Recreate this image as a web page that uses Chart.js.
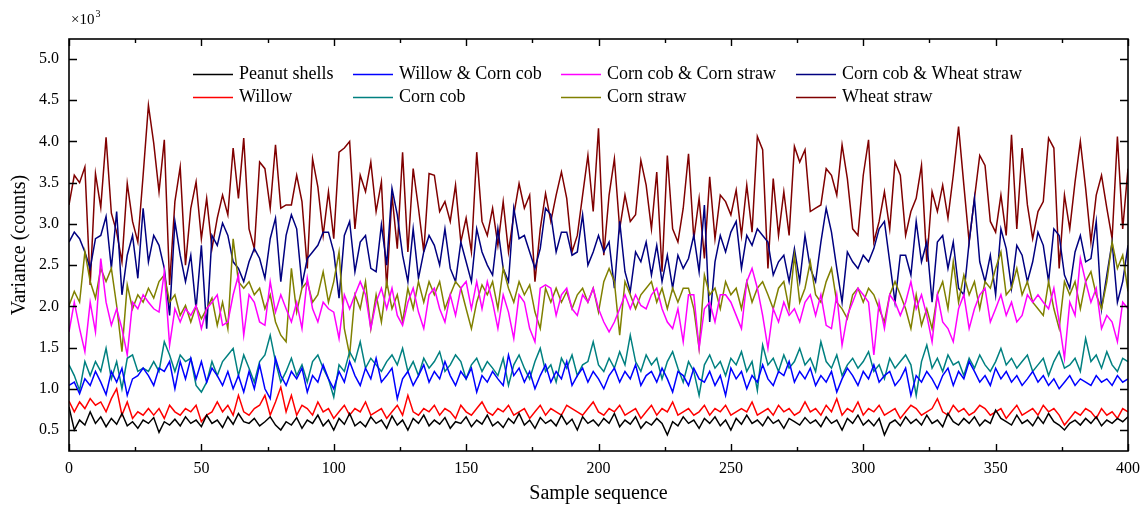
<!DOCTYPE html>
<html><head><meta charset="utf-8">
<script src="https://cdn.jsdelivr.net/npm/chart.js@4/dist/chart.umd.min.js"></script>
<style>html,body{margin:0;padding:0;background:#fff}#wrap{width:1142px;height:509px;position:relative}</style>
</head><body><div id="wrap"><canvas id="c" width="1142" height="509"></canvas></div>
<script>
// sample sequence (every 2nd sample, 0..400)
const samples = Array.from({length: 201}, (_, i) => i * 2);

const seriesNames = ["Peanut shells","Willow","Willow & Corn cob","Corn cob","Corn cob & Corn straw","Corn straw","Corn cob & Wheat straw","Wheat straw"];
const seriesColors = ["#000000","#ff0000","#0000ff","#008080","#ff00ff","#808000","#000080","#800000"];

// values in units of 10^3 counts
const peanutShells = [0.78,0.50,0.62,0.56,0.72,0.58,0.66,0.54,0.64,0.57,0.70,0.55,0.60,0.52,0.62,0.58,0.65,0.47,0.60,0.56,0.63,0.55,0.66,0.58,0.62,0.54,0.68,0.58,0.62,0.53,0.66,0.57,0.70,0.60,0.58,0.64,0.55,0.60,0.66,0.56,0.50,
0.60,0.56,0.65,0.52,0.62,0.58,0.68,0.55,0.62,0.50, 0.64,0.57,0.70,0.55,0.60,0.54,0.66,0.58,0.62,0.52, 0.67,0.56,0.62,0.50,0.64,0.58,0.68,0.55,0.62,0.57, 0.65,0.52,0.60,0.58,0.66,0.54,0.62,0.57,0.68,0.55,
0.60,0.53,0.64,0.58,0.70,0.56,0.62,0.52,0.65,0.58, 0.62,0.55,0.68,0.57,0.63,0.50,0.66,0.58,0.62,0.55, 0.64,0.58,0.70,0.54,0.62,0.57,0.66,0.52,0.60,0.56, 0.64,0.58,0.44,0.60,0.55,0.66,0.58,0.62,0.52,0.64,
0.58,0.66,0.55,0.62,0.50,0.64,0.57,0.68,0.58,0.62, 0.55,0.66,0.58,0.62,0.52,0.64,0.60,0.56,0.65,0.58, 0.62,0.54,0.66,0.58,0.62,0.50,0.64,0.58,0.68,0.56, 0.62,0.55,0.64,0.44,0.58,0.62,0.55,0.66,0.58,0.63,
0.56,0.68,0.58,0.62,0.54,0.70,0.60,0.56,0.64,0.58, 0.66,0.55,0.62,0.58,0.74,0.64,0.60,0.56,0.68,0.58, 0.62,0.55,0.66,0.58,0.70,0.60,0.56,0.50,0.58,0.62, 0.56,0.64,0.58,0.66,0.55,0.62,0.58,0.64,0.60,0.66];

const willow = [0.85,0.72,0.84,0.76,0.88,0.80,0.84,0.72,0.88,1.00,0.68,0.84,0.64,0.72,0.68,0.76,0.68,0.76,0.64,0.80,0.72,0.68,0.76,0.72,0.80,0.60,0.68,0.72,0.84,0.72,0.80,0.68,0.92,0.72,0.68,0.76,0.80,0.92,0.68,0.84,1.02,
0.72,0.92,0.68,0.80,0.76,0.68,0.84,0.72,0.76,0.64, 0.72,0.80,0.68,0.76,0.72,0.84,0.68,0.72,0.76,0.64, 0.72,0.80,0.68,0.92,0.72,0.68,0.76,0.72,0.80,0.68, 0.76,0.72,0.64,0.80,0.72,0.68,0.76,0.84,0.72,0.68,
0.76,0.72,0.80,0.68,0.72,0.76,0.64,0.72,0.80,0.68, 0.76,0.72,0.68,0.80,0.76,0.72,0.68,0.76,0.84,0.72, 0.68,0.76,0.72,0.80,0.68,0.72,0.76,0.64,0.72,0.80, 0.68,0.76,0.72,0.84,0.68,0.72,0.76,0.68,0.72,0.80,
0.68,0.76,0.72,0.80,0.68,0.72,0.76,0.72,0.84,0.68, 0.72,0.76,0.68,0.80,0.72,0.76,0.68,0.72,0.84,0.72, 0.76,0.68,0.80,0.72,0.88,0.68,0.76,0.72,0.84,0.68, 0.76,0.72,0.80,0.68,0.72,0.76,0.64,0.72,0.80,0.76,
0.68,0.72,0.76,0.88,0.72,0.68,0.80,0.72,0.76,0.68, 0.72,0.80,0.76,0.68,0.72,0.76,0.64,0.72,0.80,0.68, 0.72,0.76,0.68,0.80,0.72,0.76,0.68,0.56,0.64,0.72, 0.68,0.76,0.72,0.64,0.76,0.68,0.72,0.64,0.76,0.72];

const willowCornCob = [1.04,1.08,0.94,1.12,1.04,1.21,1.08,0.93,1.21,1.08,1.25,0.92,1.12,1.16,1.25,1.16,1.04,1.25,1.21,1.33,1.00,1.33,1.12,1.37,1.12,1.33,1.08,1.25,1.16,1.04,1.21,1.00,1.16,0.96,1.21,1.00,1.29,1.00,0.88,1.37,1.16,
1.04,1.21,1.12,1.25,0.96,1.16,1.08,1.29,1.12,1.00, 1.21,1.08,1.33,1.16,1.04,1.25,1.12,1.37,1.08,1.16, 1.25,0.88,1.12,1.21,1.04,1.16,1.29,1.08,1.21,1.12, 1.33,1.16,1.04,1.21,1.12,1.25,0.96,1.16,1.08,1.21,
1.12,1.04,1.41,1.16,1.25,1.08,1.21,1.00,1.16,1.29, 1.08,1.21,1.12,1.33,1.04,1.16,1.25,1.08,1.21,1.12, 1.00,1.16,1.25,1.08,1.21,1.12,1.29,1.04,1.16,1.21, 1.08,1.25,1.12,0.96,1.21,1.16,1.04,1.25,1.12,1.08,
1.21,1.04,1.16,0.92,1.25,1.12,1.21,1.00,1.16,1.08, 1.29,1.12,1.04,1.21,1.16,1.33,1.08,1.21,1.12,1.25, 1.04,1.16,1.08,1.21,0.96,1.12,1.25,1.16,1.04,1.21, 1.12,1.29,1.08,1.16,1.21,1.04,1.12,1.25,0.92,1.16,
1.08,1.21,1.12,1.00,1.16,1.25,1.04,1.21,1.12,1.33, 1.21,1.08,1.16,1.04,1.25,1.12,1.21,1.08,1.16,1.04, 1.12,1.21,1.08,1.16,1.04,1.12,1.00,1.08,1.16,1.04, 1.12,1.08,1.04,1.16,1.08,1.12,1.04,1.16,1.08,1.12];

const cornCob = [1.29,1.16,0.98,1.33,1.16,1.33,1.21,1.49,1.12,1.33,1.00,1.37,1.41,1.21,1.25,1.21,1.33,1.21,1.57,1.41,1.21,1.41,1.33,1.37,1.04,0.96,1.08,1.33,1.16,1.33,1.41,1.49,1.16,1.41,1.25,1.08,1.33,1.41,1.65,1.33,1.08,
1.21,1.37,1.16,1.29,1.08,1.33,1.41,1.25,1.12,0.90, 1.29,1.21,1.45,1.33,1.57,1.25,1.37,1.29,1.21,1.33, 1.41,1.29,1.49,1.21,1.33,1.16,1.37,1.25,1.33,1.45, 1.21,1.29,1.41,1.33,1.12,1.29,1.37,1.21,1.33,1.25,
1.16,1.37,1.04,1.29,1.41,1.25,1.12,1.33,1.49,1.21, 1.29,1.08,1.37,1.25,1.41,1.16,1.29,1.33,1.57,1.29, 1.21,1.37,1.25,1.45,1.29,1.65,1.33,1.21,1.41,1.29, 1.37,1.12,1.33,1.45,1.25,1.08,1.33,1.21,0.92,1.29,
1.41,1.25,1.33,1.16,1.37,1.29,1.45,1.21,1.33,0.98, 1.53,1.29,1.37,1.21,1.41,1.25,1.33,1.49,1.29,1.37, 1.21,1.57,1.33,1.25,1.41,1.16,1.29,1.37,1.25,1.33, 1.45,1.21,1.29,1.12,1.37,1.25,1.33,1.41,1.29,0.92,
1.33,1.53,1.25,1.37,1.21,1.41,1.29,1.33,1.16,1.37, 1.25,1.41,1.29,1.21,1.33,1.49,1.29,1.37,1.25,1.33, 1.41,1.21,1.29,1.37,1.16,1.33,1.45,1.25,1.29,1.37, 1.21,1.61,1.33,1.41,1.25,1.45,1.29,1.21,1.37,1.33];

const cornCobCornStraw = [1.69,2.05,1.73,1.45,2.05,1.69,2.58,2.05,1.77,1.97,1.73,1.41,2.05,1.97,2.14,2.05,1.97,1.93,2.42,1.53,1.97,1.81,1.97,1.89,2.01,1.73,1.97,2.05,2.14,1.77,1.81,2.14,2.38,1.65,2.14,2.05,1.81,1.77,2.30,1.93,2.14,
1.97,1.81,2.05,1.73,2.34,1.97,1.81,2.05,1.97,1.93, 1.61,2.14,1.97,2.14,2.30,2.14,1.73,2.05,2.22,1.97, 2.22,1.89,1.77,2.05,2.22,1.93,1.73,2.14,2.22,1.97, 1.81,2.14,1.89,2.22,2.30,1.97,2.30,1.97,2.30,
2.05,1.73,2.14,1.93,1.61,2.14,2.05,1.73,1.57,2.22, 2.26,2.22,1.89,2.14,2.22,1.97,1.89,2.14,2.05,2.22, 1.97,1.81,1.69,1.81,1.97,2.14,1.97,2.14,2.01,1.97, 2.14,2.22,1.97,1.81,1.73,1.97,1.57,2.14,2.14,1.49,
1.97,2.05,1.81,2.14,2.14,2.05,1.89,1.73,2.30,2.46, 2.22,1.89,1.49,1.97,1.81,2.05,1.89,1.97,1.81,2.05, 2.14,1.89,2.14,1.77,1.73,2.14,1.53,1.89,2.05,2.22, 2.14,2.05,1.41,2.05,1.73,2.14,2.05,1.89,2.05,2.30,
1.97,2.14,1.89,1.57,2.14,1.81,1.73,1.57,1.97,2.14, 1.73,1.97,2.14,2.22,1.81,1.97,2.14,1.89,2.05,1.81, 1.89,2.14,2.05,2.14,2.05,1.97,2.22,1.81,1.37,2.05, 1.89,2.58,2.30,2.05,2.22,1.73,1.89,1.81,1.57,2.05,1.97];

const cornStraw = [2.01,2.18,2.05,2.66,2.30,2.10,2.46,2.30,2.46,2.01,1.45,2.26,1.97,2.14,2.05,2.22,2.10,2.30,2.38,2.05,2.14,1.89,2.01,1.81,2.00,1.85,1.97,2.10,1.77,2.05,1.73,2.82,2.30,2.22,2.30,2.14,2.22,1.97,2.14,1.81,1.65,
1.57,2.46,1.93,2.22,2.30,2.05,2.14,2.42,2.05,2.30, 2.66,1.73,1.41,2.14,1.97,2.30,1.73,2.14,1.81,2.30, 1.97,2.14,1.81,2.22,1.97,2.30,2.05,2.30,2.14,2.30, 1.97,2.14,2.30,2.22,1.97,1.73,2.05,2.26,2.14,
2.30,1.97,2.46,2.22,2.05,2.30,2.14,2.26,1.93,1.73, 2.22,2.05,2.22,2.05,2.18,1.97,2.14,2.22,2.05,2.22, 1.93,2.30,2.46,2.30,1.65,2.30,2.14,1.97,2.14,2.22, 2.30,2.05,2.22,1.97,2.22,2.05,2.22,2.22,1.97,1.49,
2.38,2.14,2.22,1.97,2.30,2.14,2.22,1.97,2.30,2.05, 2.22,2.30,2.14,1.97,2.22,2.30,1.97,2.62,2.05,2.22, 2.54,2.14,2.05,2.30,2.46,2.05,1.97,1.85,2.14,2.22, 2.05,2.22,2.14,1.97,1.81,2.14,2.30,2.14,1.97,1.73,
2.14,1.77,1.97,1.73,2.14,2.30,1.97,2.54,2.05,2.38, 2.14,2.30,1.97,2.30,2.22,2.46,2.66,2.14,2.22,2.46, 2.14,2.30,2.05,1.97,1.89,2.30,1.97,1.73,2.30,2.14, 2.30,1.97,2.30,2.42,2.14,1.97,2.30,2.78,2.46,2.62,2.18];

const cornCobWheatStraw = [2.78,2.90,2.82,2.66,2.46,2.82,2.86,3.09,2.46,3.15,2.14,2.62,2.86,2.34,3.19,2.54,2.86,2.74,2.46,1.89,3.03,2.62,2.30,2.62,1.97,2.74,1.73,2.86,2.74,3.01,2.86,2.54,2.46,2.30,2.54,2.70,2.58,2.34,2.82,3.07,2.30,
2.86,3.11,2.94,2.26,2.58,2.66,2.74,2.90,2.90,2.66, 2.10,2.86,3.03,2.42,2.78,2.86,2.46,2.42,2.99,2.50, 3.43,3.11,2.62,2.30,2.94,2.34,2.66,2.86,2.74,2.50, 2.94,2.46,2.30,2.78,2.54,2.30,2.94,2.66,2.50,
2.38,2.94,2.46,2.30,3.19,2.82,2.86,2.66,2.46,2.70, 3.19,3.11,2.66,2.90,2.90,2.62,2.66,3.11,2.50,2.66, 2.86,2.66,2.78,2.22,3.03,2.42,2.18,2.66,2.54,2.78, 2.38,2.74,2.30,2.62,2.22,2.62,2.46,2.58,2.86,2.42,
3.23,1.81,2.54,2.86,2.66,2.90,3.03,2.46,2.86,2.74, 2.94,2.86,2.78,2.38,2.54,2.62,2.30,2.70,2.30,2.86, 2.46,2.30,2.78,3.19,2.90,2.46,2.05,2.66,2.54,2.46, 2.62,2.54,2.70,2.94,3.03,2.54,2.05,2.62,2.62,2.38,
3.03,2.54,2.78,2.05,2.78,2.86,2.46,2.78,2.22,2.14, 2.78,3.31,2.54,2.30,2.62,2.14,2.94,2.70,2.22,2.74, 2.62,2.30,2.54,2.90,2.74,2.30,2.94,2.86,2.38,2.22, 2.66,2.86,2.54,2.58,3.03,1.97,2.38,2.78,2.05,2.30,2.74];

const wheatStraw = [3.23,3.59,3.50,3.69,2.26,3.61,3.20,4.05,3.13,2.90,2.54,3.49,3.03,2.78,3.59,4.44,3.98,3.39,4.02,2.26,3.27,3.69,2.50,3.19,3.51,2.82,3.31,2.70,3.07,3.35,3.11,3.92,3.31,4.04,2.94,2.70,3.75,3.67,3.19,3.96,3.19,
3.23,3.23,3.59,3.27,2.46,3.79,3.45,2.86,3.39,2.82, 3.87,3.92,4.00,2.94,3.59,3.39,3.75,3.15,3.51,2.22, 3.35,2.70,3.87,2.66,3.67,3.19,2.66,3.61,3.59,3.15, 3.27,3.03,3.47,2.78,3.07,2.66,3.87,3.03,2.86,
3.19,2.74,3.27,2.66,3.11,3.49,3.19,3.35,2.30,2.94, 3.37,3.03,3.35,3.63,3.31,2.66,2.86,3.35,3.83,3.15, 4.16,2.62,3.35,3.79,2.94,3.35,3.03,3.11,3.77,3.47, 2.94,3.63,2.42,3.83,2.94,2.78,3.19,3.85,2.82,3.31,
2.58,3.57,2.82,3.35,3.27,3.11,3.41,2.86,3.47,2.90, 4.06,3.90,2.46,3.55,2.86,3.39,2.86,3.94,3.75,3.90, 3.15,3.19,3.23,3.67,3.59,3.35,3.96,3.55,2.94,2.86, 3.59,4.02,2.78,3.03,3.39,2.94,3.75,3.59,2.86,3.15,
3.31,3.71,2.54,3.39,3.15,3.47,3.07,3.59,4.18,3.47, 2.78,3.31,3.83,3.71,3.03,2.90,3.35,2.86,4.08,2.94, 3.92,3.23,2.82,3.15,3.27,4.04,3.92,2.46,3.35,2.94, 3.51,4.00,3.43,2.78,3.35,3.59,3.19,2.82,4.06,2.94,3.67];

const seriesValues = [peanutShells, willow, willowCornCob, cornCob, cornCobCornStraw, cornStraw, cornCobWheatStraw, wheatStraw];

const xTickValues = [0,50,100,150,200,250,300,350,400];
const xMinorTickValues = [25,75,125,175,225,275,325,375];
const yTickValues = [0.5,1.0,1.5,2.0,2.5,3.0,3.5,4.0,4.5,5.0];
const xTitle = "Sample sequence";
const yTitle = "Variance (counts)";
const scaleNote = ["×10", "3"];

const SERIF = "'Liberation Serif','Times New Roman',serif";

const framePlugin = {
  id: 'frameTicks',
  afterDraw(chart) {
    const {ctx, chartArea: a, scales: {x, y}} = chart;
    ctx.save();
    ctx.strokeStyle = '#000';
    ctx.lineWidth = 1.6;
    ctx.strokeRect(a.left, a.top, a.right - a.left, a.bottom - a.top);
    ctx.lineWidth = 1.4;
    ctx.beginPath();
    xTickValues.forEach(v => {
      const px = Math.round(x.getPixelForValue(v)) + 0.5;
      ctx.moveTo(px, a.bottom); ctx.lineTo(px, a.bottom - 7);
      ctx.moveTo(px, a.top); ctx.lineTo(px, a.top + 7);
    });
    xMinorTickValues.forEach(v => {
      const px = Math.round(x.getPixelForValue(v)) + 0.5;
      ctx.moveTo(px, a.bottom); ctx.lineTo(px, a.bottom - 4);
      ctx.moveTo(px, a.top); ctx.lineTo(px, a.top + 4);
    });
    yTickValues.forEach(v => {
      const py = Math.round(y.getPixelForValue(v)) + 0.5;
      ctx.moveTo(a.left, py); ctx.lineTo(a.left + 8, py);
      ctx.moveTo(a.right, py); ctx.lineTo(a.right - 8, py);
    });
    ctx.stroke();
    // x10^3 note
    ctx.fillStyle = '#000';
    ctx.textBaseline = 'alphabetic';
    ctx.textAlign = 'left';
    ctx.font = '15px ' + SERIF;
    ctx.fillText(scaleNote[0], a.left + 2, 24);
    const w = ctx.measureText(scaleNote[0]).width;
    ctx.font = '10px ' + SERIF;
    ctx.fillText(scaleNote[1], a.left + 2 + w + 1, 17);
    // legend
    const cols = [193, 353, 561, 796];
    const rows = [74, 97];
    ctx.font = '18px ' + SERIF;
    ctx.textBaseline = 'middle';
    chart.data.datasets.forEach((ds, i) => {
      const cx = cols[Math.floor(i / 2)], cy = rows[i % 2];
      ctx.strokeStyle = ds.borderColor;
      ctx.lineWidth = 1.6;
      ctx.beginPath(); ctx.moveTo(cx, cy + 0.5); ctx.lineTo(cx + 40, cy + 0.5); ctx.stroke();
      ctx.fillStyle = '#000';
      ctx.fillText(ds.label, cx + 46, cy);
    });
    ctx.restore();
  }
};

new Chart(document.getElementById('c'), {
  type: 'line',
  data: {
    datasets: seriesNames.map((name, k) => ({
      label: name,
      data: seriesValues[k].map((v, i) => ({x: samples[i], y: v})),
      borderColor: seriesColors[k],
      backgroundColor: seriesColors[k],
      borderWidth: 1.5,
      pointRadius: 0,
      tension: 0,
      fill: false
    }))
  },
  options: {
    responsive: false,
    animation: false,
    devicePixelRatio: 1,
    layout: {padding: {left: 0, right: 14, top: 39, bottom: 0}},
    plugins: {legend: {display: false}, tooltip: {enabled: false}},
    scales: {
      x: {
        type: 'linear', min: 0, max: 400,
        afterBuildTicks: s => { s.ticks = xTickValues.map(v => ({value: v})); },
        afterFit: s => { s.height = 58; s.paddingLeft = 0; s.paddingRight = 0; },
        grid: {display: false, drawTicks: false},
        border: {display: false},
        ticks: {color: '#000', font: {family: SERIF, size: 16}, padding: 8, maxRotation: 0, autoSkip: false},
        title: {display: true, text: xTitle, color: '#000', font: {family: SERIF, size: 20}, padding: {top: 0, bottom: 3}}
      },
      y: {
        type: 'linear', min: 0.245, max: 5.243,
        afterBuildTicks: s => { s.ticks = yTickValues.map(v => ({value: v})); },
        afterFit: s => { s.width = 69; s.paddingTop = 0; s.paddingBottom = 0; },
        grid: {display: false, drawTicks: false},
        border: {display: false},
        ticks: {color: '#000', font: {family: SERIF, size: 16}, padding: 10, callback: v => v.toFixed(1)},
        title: {display: true, text: yTitle, color: '#000', font: {family: SERIF, size: 20}, padding: {top: 8, bottom: 0}}
      }
    }
  },
  plugins: [framePlugin]
});
</script>
</body></html>
